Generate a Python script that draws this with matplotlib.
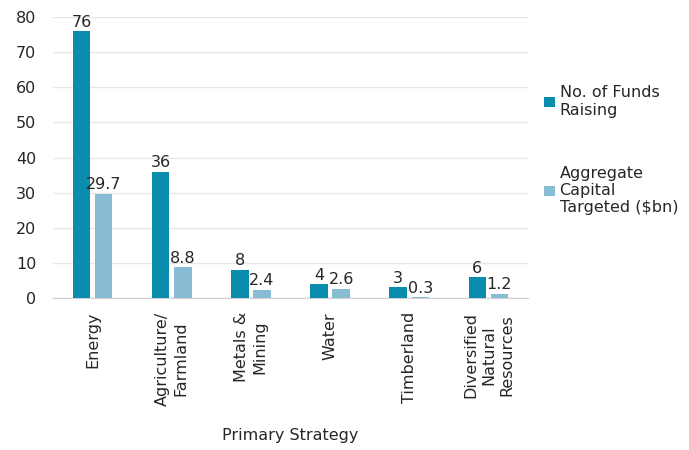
import matplotlib.pyplot as plt
import numpy as np

categories = ["Energy", "Agriculture/\nFarmland", "Metals &\nMining", "Water",
              "Timberland", "Diversified\nNatural\nResources"]
funds_raising = [76, 36, 8, 4, 3, 6]
capital_targeted = [29.7, 8.8, 2.4, 2.6, 0.3, 1.2]
funds_labels = ["76", "36", "8", "4", "3", "6"]
capital_labels = ["29.7", "8.8", "2.4", "2.6", "0.3", "1.2"]

dark = "#0A8DAD"
light = "#88BCD4"
text_color = "#262626"

plt.rcParams['font.family'] = ['DejaVu Sans']

fig = plt.figure(figsize=(6.89, 4.5), dpi=100)
ax = fig.add_axes([53 / 689, 1 - 298 / 450, 475 / 689, 281 / 450])

x = np.arange(len(categories))
w = 0.22
off = 0.14
b1 = ax.bar(x - off, funds_raising, w, color=dark, label="No. of Funds\nRaising", zorder=3)
b2 = ax.bar(x + off, capital_targeted, w, color=light, label="Aggregate\nCapital\nTargeted ($bn)", zorder=3)

for bar, lab in zip(b1, funds_labels):
    ax.text(bar.get_x() + bar.get_width() / 2, bar.get_height() + 0.4, lab,
            ha="center", va="bottom", fontsize=11.5, color=text_color)
for bar, lab in zip(b2, capital_labels):
    ax.text(bar.get_x() + bar.get_width() / 2, bar.get_height() + 0.4, lab,
            ha="center", va="bottom", fontsize=11.5, color=text_color)

ax.set_xlim(-0.5, len(categories) - 0.5)
ax.set_ylim(0, 80)
ax.set_yticks(range(0, 81, 10))
ax.set_xticks(x)
ax.set_xticklabels(categories, rotation=90, ha="center", va="top", multialignment="center",
                   linespacing=1.25)
ax.tick_params(axis="both", length=0, labelsize=11.5, colors=text_color)
ax.tick_params(axis="y", pad=12)
ax.tick_params(axis="x", pad=10)
ax.grid(axis="y", color="#E6E6E6", linewidth=1, zorder=0)
for s in ["top", "right", "left"]:
    ax.spines[s].set_visible(False)
ax.spines["bottom"].set_color("#D0D0D0")

ax.set_xlabel("Primary Strategy", fontsize=11.5, color=text_color, labelpad=16)

fig.legend(handles=[b1, b2], loc="upper left", bbox_to_anchor=(530 / 689, 1 - 71 / 450),
           frameon=False, fontsize=11.5, handlelength=0.65, handleheight=0.65,
           handletextpad=0.3, labelspacing=3.0, labelcolor=text_color)

fig.savefig("out.png", dpi=100)
